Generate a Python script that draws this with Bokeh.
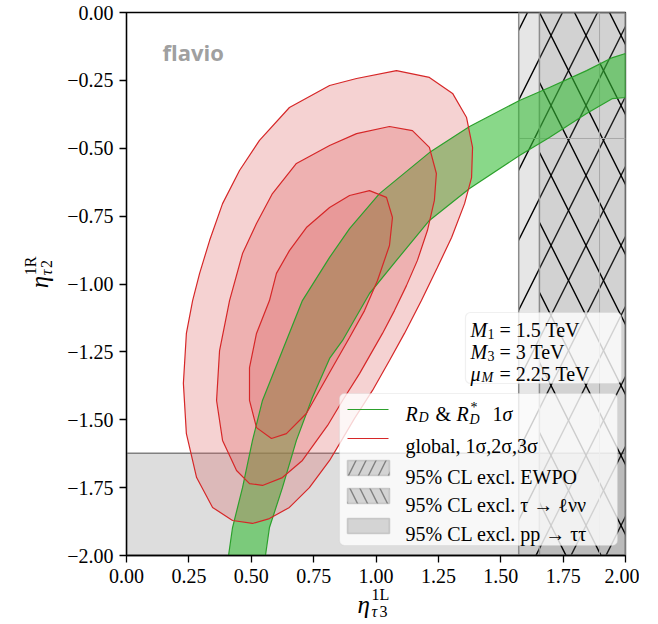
import math
from bokeh.plotting import figure
from bokeh.layouts import row, column
from bokeh.models import Range1d, FixedTicker, Label, BoxAnnotation, Arrow
from bokeh.embed import file_html
from bokeh.resources import INLINE

# ---------------- data ----------------
x_range_lim = [0.0, 2.0]
y_range_lim = [-2.0, 0.0]
x_ticks = [0.0, 0.25, 0.5, 0.75, 1.0, 1.25, 1.5, 1.75, 2.0]
x_tick_labels = ["0.00", "0.25", "0.50", "0.75", "1.00", "1.25", "1.50", "1.75", "2.00"]
y_ticks = [0.0, -0.25, -0.5, -0.75, -1.0, -1.25, -1.5, -1.75, -2.0]
y_tick_labels = ["0.00", "\u22120.25", "\u22120.50", "\u22120.75", "\u22121.00",
                 "\u22121.25", "\u22121.50", "\u22121.75", "\u22122.00"]

# global fit contours (3 sigma, 2 sigma, 1 sigma)
sigma3_x = [1.082, 1.214, 1.307, 1.363, 1.387, 1.383, 1.355, 1.303, 1.246, 1.182, 1.114, 1.054,
            0.986, 0.914, 0.862, 0.814, 0.733, 0.653, 0.573, 0.505, 0.425, 0.345, 0.281, 0.240,
            0.228, 0.240, 0.265, 0.293, 0.333, 0.385, 0.453, 0.533, 0.653, 0.814, 0.922]
sigma3_y = [-0.214, -0.239, -0.298, -0.387, -0.497, -0.608, -0.704, -0.829, -0.939, -1.061,
            -1.182, -1.282, -1.392, -1.495, -1.576, -1.650, -1.750, -1.823, -1.864, -1.882,
            -1.871, -1.823, -1.713, -1.551, -1.366, -1.182, -1.061, -0.961, -0.840, -0.704,
            -0.582, -0.471, -0.350, -0.269, -0.243]
sigma2_x = [1.054, 1.146, 1.214, 1.242, 1.234, 1.206, 1.166, 1.122, 1.074, 1.026, 0.934, 0.866,
            0.806, 0.705, 0.625, 0.545, 0.493, 0.441, 0.385, 0.361, 0.373, 0.413, 0.465, 0.521,
            0.585, 0.681, 0.814, 0.922]
sigma2_y = [-0.420, -0.435, -0.497, -0.593, -0.692, -0.803, -0.913, -1.006, -1.098, -1.182,
            -1.330, -1.429, -1.521, -1.650, -1.713, -1.742, -1.735, -1.687, -1.576, -1.429,
            -1.245, -1.061, -0.888, -0.777, -0.667, -0.556, -0.490, -0.446]
sigma1_x = [0.974, 1.042, 1.066, 1.054, 1.006, 0.954, 0.894, 0.814, 0.721, 0.641, 0.581, 0.521,
            0.493, 0.493, 0.521, 0.573, 0.601, 0.653, 0.721, 0.814, 0.894]
sigma1_y = [-0.656, -0.681, -0.755, -0.858, -0.987, -1.098, -1.197, -1.326, -1.477, -1.551,
            -1.569, -1.529, -1.429, -1.308, -1.182, -1.061, -0.961, -0.877, -0.792, -0.718,
            -0.674]

# R_D & R_D* 1 sigma band
rd_band_x = [0.409, 0.425, 0.465, 0.505, 0.545, 0.625, 0.705, 0.814, 0.894, 1.014, 1.214, 1.375,
             1.575, 1.695, 1.844, 1.948, 2.0,
             2.0, 1.948, 1.844, 1.695, 1.575, 1.375, 1.214, 1.082, 0.974, 0.866, 0.814, 0.745,
             0.681, 0.625, 0.573, 0.557]
rd_band_y = [-2.0, -1.897, -1.750, -1.576, -1.429, -1.245, -1.061, -0.902, -0.796, -0.667, -0.516,
             -0.420, -0.324, -0.276, -0.214, -0.166, -0.151,
             -0.313, -0.317, -0.372, -0.460, -0.527, -0.648, -0.766, -0.913, -1.035, -1.208,
             -1.274, -1.418, -1.576, -1.750, -1.897, -2.0]

# exclusion regions
ewpo_excl_x_min = [1.572]
tau_excl_x_min = [1.655]
pp_excl_y_max = [-1.623]
seam_x = [1.896]
seam_y = [-0.464]

legend_labels = ["global, 1\u03c3,2\u03c3,3\u03c3",
                 "95% CL excl. EWPO",
                 "95% CL excl. \u03c4 \u2192 \u2113\u03bd\u03bd",
                 "95% CL excl. pp \u2192 \u03c4\u03c4"]
param_rows = [("M", "1", "= 1.5 TeV"), ("M", "3", "= 3 TeV"), ("\u03bc", "M", "= 2.25 TeV")]

# ---------------- layout helpers (reference pixel -> data) ----------------
FL, FT, FW, FH = 126, 12, 499, 543
YLAB_W = 60
MAIN_LEFT = FL - YLAB_W
MAIN_RIGHT = 14
MAIN_BOTTOM = 36
MAIN_W = MAIN_LEFT + FW + MAIN_RIGHT
MAIN_H = FT + FH + MAIN_BOTTOM
XLAB_OVERLAP = 10
XLAB_H = 38
XLAB_TOP = 595 - XLAB_OVERLAP   # expected page y of the x-label panel top

def dx(px):
    return x_range_lim[0] + (px - FL) * (x_range_lim[1] - x_range_lim[0]) / FW
def dy(py):
    return y_range_lim[1] - (py - FT) * (y_range_lim[1] - y_range_lim[0]) / FH

SERIF = "Liberation Serif"

p = figure(x_range=Range1d(*x_range_lim), y_range=Range1d(*y_range_lim),
           frame_width=FW, frame_height=FH,
           min_border_left=MAIN_LEFT, min_border_right=MAIN_RIGHT, min_border_top=FT,
           min_border_bottom=MAIN_BOTTOM,
           output_backend="svg", toolbar_location=None,
           background_fill_color="white", border_fill_color="white")
p.grid.visible = False
p.outline_line_color = "black"
p.outline_line_width = 1.3
p.outline_line_alpha = 1.0

for ax in (p.xaxis[0], p.yaxis[0]):
    ax.axis_line_color = "black"
    ax.axis_line_width = 1.3
    ax.major_tick_line_color = "black"
    ax.major_tick_line_width = 1.3
    ax.major_tick_out = 7
    ax.major_tick_in = 0
    ax.minor_tick_out = 0
    ax.minor_tick_in = 0
    ax.major_label_text_font = SERIF
    ax.major_label_text_font_size = "20px"
    ax.major_label_text_color = "black"
p.xaxis.major_label_standoff = 6
p.yaxis.major_label_standoff = 6
p.xaxis.ticker = FixedTicker(ticks=x_ticks)
p.yaxis.ticker = FixedTicker(ticks=y_ticks)
p.xaxis.major_label_overrides = dict(zip(x_ticks, x_tick_labels))
p.yaxis.major_label_overrides = dict(zip(y_ticks, y_tick_labels))

GRAY = "#808080"
# exclusion regions
p.quad(left=[x_range_lim[0]], right=[x_range_lim[1]],
       bottom=[y_range_lim[0]], top=pp_excl_y_max,
       fill_color=GRAY, fill_alpha=0.27, line_color=GRAY, line_width=1.5)
p.quad(left=ewpo_excl_x_min, right=[x_range_lim[1]], bottom=[y_range_lim[0]], top=[y_range_lim[1]],
       fill_color=GRAY, fill_alpha=0.2, hatch_pattern="/", hatch_color="black",
       hatch_weight=1.4, hatch_scale=70, line_color="#8c8c8c", line_width=1.5)
p.quad(left=tau_excl_x_min, right=[x_range_lim[1]], bottom=[y_range_lim[0]], top=[y_range_lim[1]],
       fill_color=GRAY, fill_alpha=0.2, hatch_pattern="\\", hatch_color="black",
       hatch_weight=1.4, hatch_scale=70, line_color="#8c8c8c", line_width=1.5)
p.segment(x0=[seam_x[0], ewpo_excl_x_min[0]], y0=[y_range_lim[0], seam_y[0]],
          x1=[seam_x[0], x_range_lim[1]], y1=[y_range_lim[1], seam_y[0]],
          line_color="#a8a8a8", line_width=1)

# fills
p.patch(rd_band_x, rd_band_y, fill_color="#33bb33", fill_alpha=0.58, line_color=None)
for xs, ys in ((sigma3_x, sigma3_y), (sigma2_x, sigma2_y), (sigma1_x, sigma1_y)):
    p.patch(xs, ys, fill_color="#dc5f5f", fill_alpha=0.28, line_color=None)
# outlines
p.patch(rd_band_x, rd_band_y, fill_color=None, line_color="#2ca02c", line_width=1.2)
for xs, ys in ((sigma3_x, sigma3_y), (sigma2_x, sigma2_y), (sigma1_x, sigma1_y)):
    p.patch(xs, ys, fill_color=None, line_color="#d62728", line_width=1.2)

# flavio tag
p.add_layout(Label(x=dx(162), y=dy(51), text="flavio", text_font="Open Sans",
                   text_font_style="bold", text_font_size="22px", text_color="#a0a0a0",
                   text_baseline="alphabetic"))

def lab(fig, x, y, text, size=20, style="normal", angle=0.0, color="black"):
    fig.add_layout(Label(x=x, y=y, text=text, text_font=SERIF,
                         text_font_size=f"{size}px", text_font_style=style,
                         text_color=color, text_align="left", text_baseline="alphabetic",
                         angle=angle))

def mlab(text, px, py, **kw):
    lab(p, dx(px), dy(py), text, **kw)

# ---------------- legend ----------------
p.add_layout(BoxAnnotation(left=dx(339), right=dx(617), top=dy(393), bottom=dy(545),
                           fill_color="white", fill_alpha=0.8, line_color="#cccccc",
                           line_width=1.2, border_radius=5))
p.add_layout(Arrow(end=None, x_start=dx(347), y_start=dy(409), x_end=dx(388), y_end=dy(409),
                   line_color="#2ca02c", line_width=1.2))
p.add_layout(Arrow(end=None, x_start=dx(347), y_start=dy(438), x_end=dx(388), y_end=dy(438),
                   line_color="#d62728", line_width=1.2))
for (t, b), hp in zip(((460, 475), (488, 503), (518, 533)), ("/", "\\", None)):
    kw = dict(hatch_pattern=hp, hatch_color=GRAY, hatch_scale=20, hatch_weight=1.4) if hp else {}
    p.add_layout(BoxAnnotation(left=dx(347), right=dx(389), top=dy(t), bottom=dy(b),
                               fill_color=GRAY, fill_alpha=0.3, line_color=GRAY,
                               line_width=1.6, **kw))
# entry 1: R_D & R_D^* 1 sigma
mlab("R", 405, 413, style="italic")
mlab("D", 418, 417, size=14, style="italic")
mlab("&", 435, 413)
mlab("R", 456, 413, style="italic")
mlab("*", 470, 407, size=14)
mlab("D", 469, 419, size=14, style="italic")
mlab("1", 492, 413)
mlab("\u03c3", 502, 413, style="italic")
for text, base in zip(legend_labels, (445, 476, 504, 533)):
    mlab(text, 405, base)

# ---------------- parameter box ----------------
p.add_layout(BoxAnnotation(left=dx(465), right=dx(621), top=dy(312), bottom=dy(383),
                           fill_color="white", fill_alpha=0.8, line_color="#cccccc",
                           line_width=1.2, border_radius=5))
for (sym, sub, rest), base in zip(param_rows, (329, 351, 373)):
    mlab(sym, 470, base, style="italic")
    sub_x = 487 if sym == "M" else 481
    mlab(sub, sub_x, base + 4, size=14, style="italic" if sub.isalpha() else "normal")
    mlab(rest, 499, base)

# ---------------- axis-label panels (real text in small svg figures) ----------------
def label_panel(w, h, transparent=False):
    fill = None if transparent else "white"
    f = figure(width=w, height=h, x_range=Range1d(0, w), y_range=Range1d(h, 0),
               min_border=0, toolbar_location=None, output_backend="svg",
               x_axis_type=None, y_axis_type=None, outline_line_color=None,
               background_fill_color=fill, border_fill_color=fill)
    f.grid.visible = False
    return f

A = math.pi / 2
ylab = label_panel(YLAB_W, MAIN_H)
lab(ylab, 39, 300, "\u03b7", size=25, style="italic", angle=A)
lab(ylab, 30, 286, "1R", size=16, angle=A)
lab(ylab, 46, 286, "\u03c4", size=16, style="italic", angle=A)
lab(ylab, 46, 278, "2", size=16, angle=A)

xlab = label_panel(YLAB_W + MAIN_W, XLAB_H, transparent=True)
xlab.margin = (-XLAB_OVERLAP, 0, 0, 0)
lab(xlab, 357, 608 - XLAB_TOP, "\u03b7", size=25, style="italic")
lab(xlab, 371, 598 - XLAB_TOP, "1L", size=16)
lab(xlab, 371, 615 - XLAB_TOP, "\u03c4", size=16, style="italic")
lab(xlab, 379, 615 - XLAB_TOP, "3", size=16)

layout = column(row(ylab, p, spacing=0), xlab, spacing=0)
open("out.html", "w").write(file_html(layout, INLINE))
